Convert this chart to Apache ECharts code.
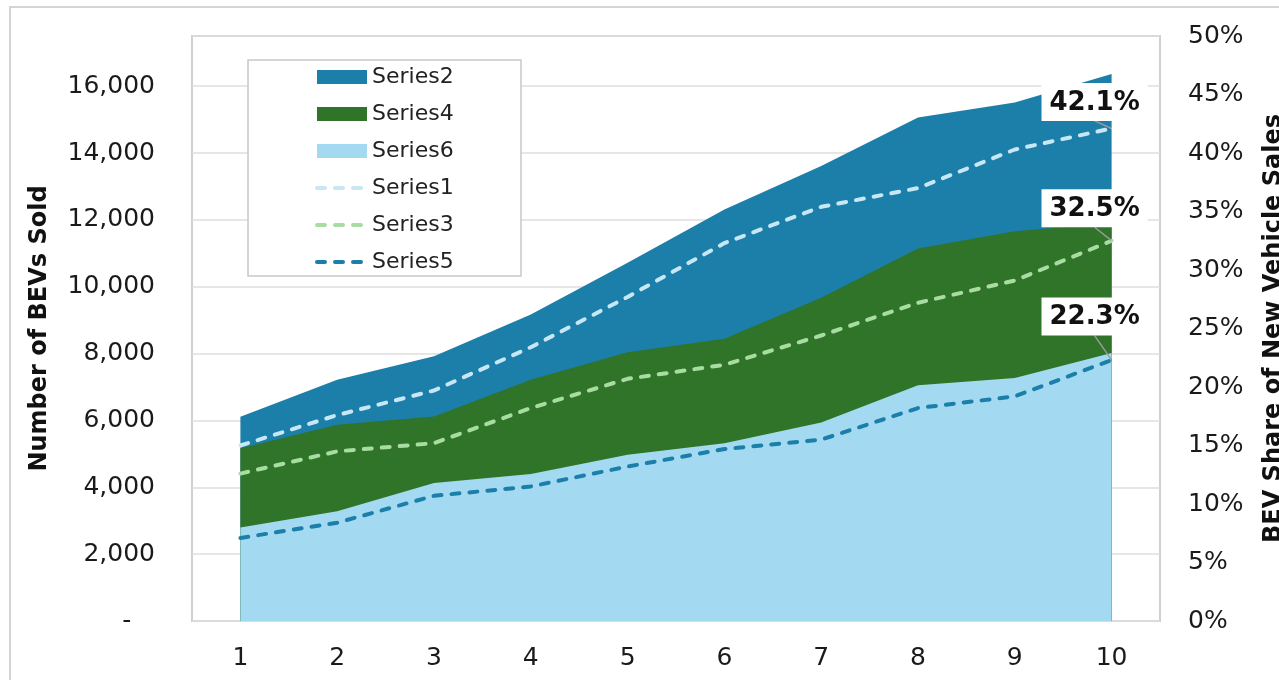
<!DOCTYPE html>
<html>
<head>
<meta charset="utf-8">
<title>BEV sales</title>
<script src="https://cdn.jsdelivr.net/npm/echarts@6/dist/echarts.min.js"></script>
<style>
  html, body { margin: 0; padding: 0; background: #fff; overflow: hidden; }
  #chart { width: 1279px; height: 680px; }
</style>
</head>
<body>
<div id="chart"></div>
<script>
// x categories
const categories = ['1', '2', '3', '4', '5', '6', '7', '8', '9', '10']

// BEVs sold (left axis), areas
const series2 = [6110, 7220, 7920, 9170, 10720, 12310, 13610, 15060, 15510, 16360]
const series4 = [5170, 5870, 6120, 7220, 8040, 8440, 9670, 11140, 11660, 11900]
const series6 = [2800, 3280, 4130, 4400, 4970, 5320, 5940, 7050, 7270, 8020]

// BEV share in % (right axis), dashed lines
const series1 = [15.0, 17.6, 19.7, 23.4, 27.7, 32.3, 35.4, 37.0, 40.3, 42.1]
const series3 = [12.6, 14.5, 15.2, 18.2, 20.7, 21.9, 24.4, 27.2, 29.1, 32.5]
const series5 = [7.1, 8.4, 10.7, 11.5, 13.2, 14.7, 15.5, 18.2, 19.2, 22.3]

const FONT = '"DejaVu Sans", Verdana, sans-serif'
const DASH = [8, 10]

const areaSeries = (name, data, color) => ({
  name: name,
  type: 'line',
  yAxisIndex: 0,
  symbol: 'none',
  lineStyle: { width: 0 },
  itemStyle: { color: color },
  areaStyle: { color: color, opacity: 1 },
  z: 2,
  data: data
})

// dashed share line, last point carries the boxed label
const shareSeries = (name, data, color, dy) => ({
  name: name,
  type: 'line',
  yAxisIndex: 1,
  symbol: 'none',
  lineStyle: { color: color, width: 4, type: DASH, cap: 'round' },
  itemStyle: { color: color },
  z: 3,
  labelLine: { show: true, lineStyle: { color: '#9a9a9a', width: 1.5 } },
  labelLayout: { dx: -17, dy: dy },
  data: data.map((v, i) => i === data.length - 1
    ? {
        value: v,
        symbol: 'circle',
        symbolSize: 1,
        label: {
          show: true,
          position: 'top',
          formatter: v.toFixed(1) + '%',
          backgroundColor: '#fff',
          padding: [7, 8, 5, 8],
          color: '#111',
          fontFamily: FONT,
          fontWeight: 'bold',
          fontSize: 26
        }
      }
    : v)
})

const lineLegend = (name) => ({
  name: name,
  itemStyle: { opacity: 0 },
  lineStyle: { width: 4, type: DASH, cap: 'round' }
})

const options = {
  backgroundColor: '#fff',
  animation: false,
  textStyle: { fontFamily: FONT },
  grid: {
    left: 192,
    right: 119,
    top: 36,
    bottom: 59,
    outerBoundsMode: 'none',
    show: true,
    borderColor: '#d0d0d0',
    borderWidth: 2
  },
  legend: {
    orient: 'vertical',
    left: 310,
    top: 61,
    z: 10,
    itemWidth: 50,
    itemHeight: 14,
    itemGap: 15,
    textStyle: { fontFamily: FONT, fontSize: 22, color: '#222' },
    data: [
      { name: 'Series2', icon: 'rect' },
      { name: 'Series4', icon: 'rect' },
      { name: 'Series6', icon: 'rect' },
      lineLegend('Series1'),
      lineLegend('Series3'),
      lineLegend('Series5')
    ]
  },
  graphic: [
    {
      // outer frame
      type: 'rect',
      z: 0,
      shape: { x: 10, y: 7, width: 1300, height: 700 },
      style: { fill: 'none', stroke: '#d4d4d4', lineWidth: 2 }
    },
    {
      // legend box
      type: 'rect',
      z: 5,
      shape: { x: 248, y: 60, width: 273, height: 216 },
      style: { fill: '#fff', stroke: '#c8c8c8', lineWidth: 1.5 }
    }
  ],
  xAxis: {
    type: 'category',
    data: categories,
    boundaryGap: true,
    axisLine: { show: false },
    axisTick: { show: false },
    axisLabel: { color: '#1a1a1a', fontSize: 25, fontFamily: FONT, margin: 25 }
  },
  yAxis: [
    {
      type: 'value',
      min: 0,
      max: 17500,
      interval: 2000,
      name: 'Number of BEVs Sold',
      nameLocation: 'middle',
      nameGap: 140,
      nameTextStyle: { color: '#111', fontSize: 24, fontWeight: 'bold', fontFamily: FONT },
      axisLine: { show: false },
      axisTick: { show: false },
      splitLine: { lineStyle: { color: '#dedede', width: 1.5 } },
      axisLabel: {
        color: '#1a1a1a',
        fontSize: 25,
        fontFamily: FONT,
        margin: 37,
        showMaxLabel: false,
        formatter: v => v === 0 ? '-   ' : v.toLocaleString('en-US')
      }
    },
    {
      type: 'value',
      min: 0,
      max: 50,
      interval: 5,
      name: 'BEV Share of New Vehicle Sales',
      nameLocation: 'middle',
      nameGap: 102,
      nameTextStyle: { color: '#111', fontSize: 24, fontWeight: 'bold', fontFamily: FONT },
      axisLine: { show: false },
      axisTick: { show: false },
      splitLine: { show: false },
      axisLabel: {
        color: '#1a1a1a',
        fontSize: 25,
        fontFamily: FONT,
        margin: 28,
        formatter: '{value}%'
      }
    }
  ],
  series: [
    areaSeries('Series2', series2, '#1b7fa9'),
    areaSeries('Series4', series4, '#2f7429'),
    areaSeries('Series6', series6, '#a3daf1'),
    shareSeries('Series1', series1, '#c7e7f5', -2),
    shareSeries('Series3', series3, '#a9dca2', -8),
    shareSeries('Series5', series5, '#1b7fa9', -19)
  ]
}

const chart = echarts.init(document.getElementById('chart'))
chart.setOption(options)
window.addEventListener('resize', () => {
  chart.resize()
})
</script>
</body>
</html>
